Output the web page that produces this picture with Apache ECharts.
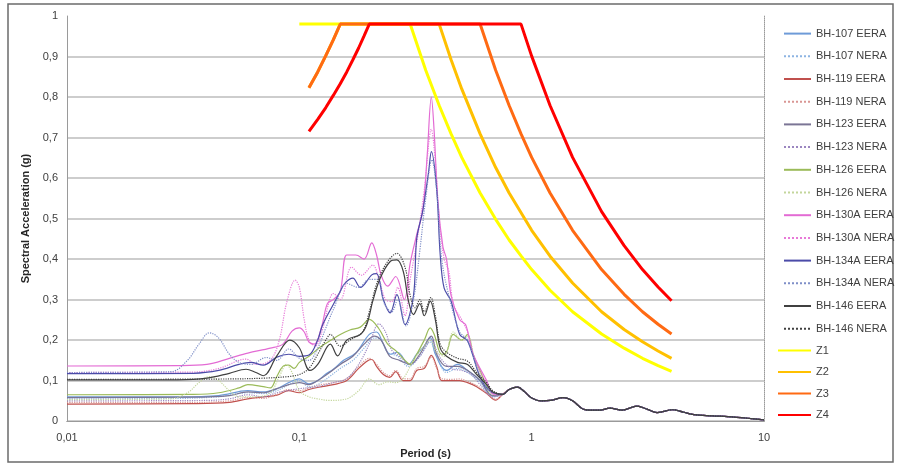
<!DOCTYPE html>
<html><head><meta charset="utf-8">
<script src="https://cdn.jsdelivr.net/npm/echarts@6/dist/echarts.min.js"></script>
<style>html,body{margin:0;padding:0;background:#fff}#c{width:897px;height:464px}</style>
</head><body><div id="c"></div>
<script>
// ---- tick labels ----
const xTickLabels = ['0,01', '0,1', '1', '10'];
const yTickLabels = ['0', '0,1', '0,2', '0,3', '0,4', '0,5', '0,6', '0,7', '0,8', '0,9', '1'];

// ---- series names ----
const dataNames = ['BH-107 EERA', 'BH-107 NERA', 'BH-119 EERA', 'BH-119 NERA', 'BH-123 EERA', 'BH-123 NERA',
  'BH-126 EERA', 'BH-126 NERA', 'BH-130A EERA', 'BH-130A NERA', 'BH-134A EERA', 'BH-134A NERA', 'BH-146 EERA', 'BH-146 NERA'];
const zoneNames = ['Z1', 'Z2', 'Z3', 'Z4'];

// ---- common long-period tail (all records converge) [period s, Sa g] ----
const tail = [[0.75,0.066],[0.8,0.078],[0.87,0.084],[0.93,0.073],[1.0,0.057],[1.1,0.05],[1.2,0.051],[1.37,0.058],[1.5,0.05],
  [1.66,0.030],[1.8,0.027],[1.97,0.027],[2.17,0.032],[2.45,0.027],[2.84,0.037],[3.15,0.029],[3.47,0.021],[4.05,0.028],
  [4.5,0.022],[5.0,0.016],[6.0,0.013],[7.0,0.011],[8.5,0.007],[10,0.003]];

// ---- individual records [period s, Sa g] ----
const bh107E = [[0.01,0.06],[0.03,0.06],[0.045,0.063],[0.06,0.075],[0.07,0.072],[0.08,0.08],[0.09,0.095],[0.1,0.104],[0.11,0.092],
  [0.12,0.1],[0.13,0.116],[0.14,0.128],[0.155,0.15],[0.175,0.168],[0.2,0.214],[0.215,0.22],[0.23,0.19],[0.246,0.165],[0.265,0.17],
  [0.295,0.14],[0.32,0.165],[0.345,0.185],[0.366,0.206],[0.385,0.165],[0.43,0.125],[0.48,0.14],[0.53,0.125],[0.6,0.1],[0.68,0.062]];
const bh107N = [[0.01,0.055],[0.03,0.056],[0.045,0.06],[0.06,0.07],[0.07,0.068],[0.08,0.075],[0.09,0.09],[0.1,0.1],[0.11,0.085],
  [0.12,0.09],[0.135,0.11],[0.15,0.13],[0.17,0.15],[0.19,0.18],[0.21,0.205],[0.225,0.2],[0.24,0.17],[0.265,0.16],[0.295,0.135],
  [0.33,0.16],[0.366,0.195],[0.39,0.16],[0.43,0.12],[0.48,0.13],[0.53,0.12],[0.6,0.095],[0.68,0.06]];
const bh119E = [[0.01,0.042],[0.035,0.043],[0.05,0.046],[0.06,0.055],[0.07,0.06],[0.08,0.064],[0.09,0.075],[0.1,0.07],[0.11,0.078],
  [0.125,0.085],[0.14,0.09],[0.16,0.1],[0.18,0.13],[0.197,0.149],[0.205,0.152],[0.215,0.135],[0.23,0.115],[0.245,0.108],[0.26,0.122],
  [0.28,0.1],[0.3,0.1],[0.32,0.125],[0.345,0.13],[0.37,0.162],[0.39,0.135],[0.41,0.1],[0.45,0.1],[0.49,0.1],[0.53,0.095],
  [0.58,0.085],[0.64,0.068],[0.7,0.052]];
const bh119N = [[0.01,0.046],[0.035,0.046],[0.05,0.05],[0.06,0.058],[0.07,0.056],[0.08,0.066],[0.09,0.078],[0.1,0.075],[0.11,0.082],
  [0.125,0.09],[0.14,0.095],[0.16,0.105],[0.18,0.135],[0.2,0.155],[0.215,0.14],[0.23,0.12],[0.245,0.112],[0.26,0.125],[0.28,0.105],
  [0.3,0.104],[0.32,0.13],[0.345,0.135],[0.37,0.158],[0.39,0.13],[0.41,0.105],[0.45,0.103],[0.49,0.104],[0.53,0.098],[0.58,0.088],
  [0.64,0.07],[0.7,0.054]];
const bh123E = [[0.01,0.058],[0.035,0.059],[0.05,0.063],[0.06,0.072],[0.07,0.07],[0.08,0.08],[0.09,0.09],[0.1,0.095],[0.11,0.09],
  [0.12,0.1],[0.135,0.12],[0.15,0.14],[0.17,0.16],[0.19,0.19],[0.21,0.21],[0.225,0.2],[0.245,0.16],[0.27,0.15],[0.3,0.14],
  [0.33,0.165],[0.37,0.21],[0.39,0.165],[0.43,0.135],[0.48,0.135],[0.53,0.125],[0.6,0.1],[0.68,0.063]];
const bh123N = [[0.01,0.05],[0.04,0.051],[0.05,0.055],[0.06,0.065],[0.07,0.06],[0.08,0.07],[0.1,0.08],[0.12,0.085],[0.14,0.095],
  [0.16,0.105],[0.18,0.14],[0.2,0.19],[0.22,0.24],[0.235,0.22],[0.25,0.175],[0.27,0.16],[0.3,0.14],[0.33,0.16],[0.37,0.2],
  [0.4,0.16],[0.45,0.13],[0.5,0.125],[0.55,0.115],[0.6,0.09],[0.68,0.06]];
const bh126E = [[0.01,0.065],[0.035,0.066],[0.045,0.07],[0.055,0.082],[0.06,0.09],[0.07,0.085],[0.075,0.082],[0.08,0.11],
  [0.085,0.135],[0.09,0.138],[0.095,0.13],[0.1,0.145],[0.11,0.16],[0.12,0.178],[0.13,0.192],[0.15,0.214],[0.165,0.225],
  [0.183,0.232],[0.2,0.251],[0.22,0.228],[0.24,0.19],[0.26,0.174],[0.285,0.15],[0.3,0.14],[0.32,0.165],[0.345,0.2],[0.366,0.23],
  [0.38,0.215],[0.41,0.165],[0.43,0.17],[0.46,0.214],[0.5,0.2],[0.53,0.214],[0.56,0.165],[0.6,0.125],[0.66,0.075]];
const bh126N = [[0.01,0.053],[0.028,0.055],[0.033,0.07],[0.037,0.095],[0.041,0.11],[0.045,0.1],[0.05,0.075],[0.055,0.06],
  [0.065,0.06],[0.075,0.07],[0.082,0.11],[0.088,0.14],[0.093,0.12],[0.1,0.075],[0.11,0.06],[0.12,0.055],[0.135,0.051],[0.16,0.055],
  [0.18,0.075],[0.2,0.104],[0.22,0.09],[0.24,0.097],[0.26,0.095],[0.28,0.105],[0.31,0.15],[0.34,0.18],[0.366,0.2],[0.39,0.17],
  [0.42,0.16],[0.46,0.22],[0.5,0.2],[0.53,0.21],[0.57,0.15],[0.62,0.1],[0.68,0.065]];
const bh130E = [[0.01,0.136],[0.03,0.137],[0.04,0.14],[0.05,0.155],[0.06,0.168],[0.075,0.18],[0.085,0.19],[0.093,0.222],[0.1,0.23],
  [0.105,0.22],[0.11,0.195],[0.116,0.19],[0.125,0.235],[0.132,0.29],[0.14,0.3],[0.15,0.32],[0.16,0.41],[0.175,0.41],[0.19,0.4],
  [0.205,0.44],[0.215,0.41],[0.225,0.36],[0.24,0.333],[0.26,0.357],[0.283,0.3],[0.3,0.39],[0.32,0.46],[0.34,0.52],[0.355,0.655],
  [0.37,0.8],[0.38,0.72],[0.395,0.54],[0.415,0.43],[0.43,0.4],[0.45,0.31],[0.49,0.25],[0.52,0.238],[0.56,0.165],[0.64,0.1],[0.68,0.067]];
const bh130N = [[0.01,0.12],[0.035,0.121],[0.045,0.13],[0.059,0.153],[0.065,0.14],[0.075,0.15],[0.082,0.2],[0.088,0.29],[0.096,0.348],
  [0.1,0.33],[0.105,0.25],[0.11,0.2],[0.117,0.185],[0.125,0.22],[0.135,0.3],[0.14,0.315],[0.15,0.3],[0.168,0.38],[0.185,0.36],
  [0.207,0.385],[0.22,0.35],[0.235,0.3],[0.25,0.295],[0.265,0.33],[0.285,0.26],[0.3,0.35],[0.32,0.44],[0.345,0.57],[0.37,0.72],
  [0.385,0.64],[0.4,0.5],[0.42,0.4],[0.44,0.37],[0.46,0.29],[0.5,0.25],[0.53,0.22],[0.57,0.15],[0.64,0.095],[0.7,0.065]];
const bh134E = [[0.01,0.117],[0.035,0.118],[0.045,0.125],[0.055,0.14],[0.062,0.145],[0.07,0.138],[0.08,0.158],[0.09,0.165],[0.1,0.16],
  [0.11,0.163],[0.12,0.2],[0.126,0.238],[0.14,0.288],[0.15,0.32],[0.157,0.34],[0.17,0.353],[0.183,0.33],[0.205,0.361],[0.215,0.364],
  [0.23,0.3],[0.246,0.267],[0.263,0.312],[0.285,0.238],[0.31,0.31],[0.32,0.45],[0.34,0.52],[0.36,0.615],[0.37,0.665],[0.39,0.573],
  [0.404,0.41],[0.42,0.328],[0.45,0.296],[0.49,0.214],[0.53,0.198],[0.6,0.108],[0.66,0.075]];
const bh134N = [[0.01,0.12],[0.028,0.122],[0.033,0.15],[0.037,0.19],[0.041,0.218],[0.045,0.205],[0.05,0.165],[0.055,0.145],[0.062,0.14],
  [0.072,0.157],[0.08,0.15],[0.09,0.178],[0.1,0.155],[0.11,0.15],[0.12,0.18],[0.13,0.23],[0.14,0.275],[0.16,0.34],[0.18,0.33],
  [0.2,0.35],[0.218,0.35],[0.232,0.29],[0.25,0.27],[0.265,0.3],[0.288,0.235],[0.31,0.3],[0.33,0.42],[0.35,0.55],[0.372,0.645],
  [0.39,0.57],[0.41,0.4],[0.44,0.31],[0.49,0.22],[0.53,0.2],[0.6,0.11],[0.66,0.075]];
const bh146E = [[0.01,0.102],[0.03,0.102],[0.04,0.106],[0.05,0.118],[0.059,0.128],[0.065,0.12],[0.07,0.112],[0.08,0.161],[0.091,0.2],
  [0.1,0.181],[0.111,0.125],[0.12,0.14],[0.136,0.19],[0.146,0.161],[0.16,0.2],[0.183,0.214],[0.195,0.238],[0.207,0.296],[0.223,0.353],
  [0.246,0.394],[0.263,0.398],[0.28,0.37],[0.295,0.296],[0.31,0.263],[0.33,0.29],[0.345,0.26],[0.366,0.296],[0.385,0.25],[0.404,0.18],
  [0.43,0.16],[0.48,0.145],[0.53,0.14],[0.58,0.115],[0.64,0.09],[0.68,0.072]];
const bh146N = [[0.01,0.103],[0.05,0.104],[0.07,0.106],[0.09,0.11],[0.1,0.115],[0.11,0.13],[0.12,0.165],[0.13,0.2],[0.136,0.214],
  [0.15,0.185],[0.165,0.2],[0.187,0.22],[0.2,0.27],[0.217,0.345],[0.24,0.394],[0.263,0.414],[0.285,0.38],[0.3,0.31],[0.315,0.28],
  [0.33,0.3],[0.345,0.27],[0.368,0.305],[0.385,0.26],[0.404,0.19],[0.43,0.17],[0.48,0.155],[0.53,0.148],[0.58,0.12],[0.64,0.095],[0.68,0.075]];

// ---- design spectra Z1..Z4 [period s, Sa g] ----
const z1 = [[0.1,0.98],[0.3,0.98],[0.35,0.866],[0.4,0.779],[0.45,0.709],[0.5,0.651],[0.6,0.563],[0.7,0.498],[0.8,0.447],[0.9,0.408],
  [1.0,0.374],[1.2,0.323],[1.5,0.270],[2.0,0.215],[2.5,0.180],[3.0,0.155],[3.5,0.137],[4.0,0.123]];
const z2 = [[0.11,0.823],[0.12,0.862],[0.13,0.902],[0.14,0.941],[0.15,0.98],[0.4,0.98],[0.45,0.892],[0.5,0.820],[0.6,0.709],[0.7,0.626],
  [0.8,0.563],[1.0,0.471],[1.2,0.407],[1.5,0.341],[2.0,0.270],[2.5,0.226],[3.0,0.196],[3.5,0.173],[4.0,0.155]];
const z3 = [[0.11,0.823],[0.12,0.862],[0.13,0.902],[0.14,0.941],[0.15,0.98],[0.6,0.98],[0.7,0.866],[0.8,0.779],[0.9,0.709],[1.0,0.651],
  [1.2,0.563],[1.5,0.471],[2.0,0.374],[2.5,0.313],[3.0,0.270],[3.5,0.239],[4.0,0.215]];
const z4 = [[0.11,0.715],[0.12,0.745],[0.13,0.774],[0.14,0.804],[0.15,0.833],[0.16,0.862],[0.17,0.892],[0.18,0.921],[0.19,0.951],
  [0.2,0.98],[0.9,0.98],[1.0,0.901],[1.2,0.779],[1.5,0.651],[2.0,0.517],[2.5,0.433],[3.0,0.374],[3.5,0.331],[4.0,0.297]];

const records = [bh107E, bh107N, bh119E, bh119N, bh123E, bh123N, bh126E, bh126N, bh130E, bh130N, bh134E, bh134N, bh146E, bh146N];
const zones = [z1, z2, z3, z4];

const recColors = ['#6E9BD8', '#8DB4E2', '#C0504D', '#D99694', '#7B7595', '#9B86C0', '#9BBB59', '#C3D69B',
  '#E36BD4', '#E879D8', '#4B4BA8', '#7F8FC8', '#404040', '#404040'];
const zoneColors = ['#FFFF00', '#FFC000', '#FF6A13', '#FF0000'];

const FONT = '"Liberation Sans", Arial, sans-serif';
const series = [];
records.forEach((d, i) => {
  series.push({
    name: dataNames[i], type: 'line', data: d.concat(tail), symbol: 'none', showSymbol: false, smooth: 0.35,
    lineStyle: { width: 1.2, color: recColors[i], type: i % 2 === 1 ? 'dotted' : 'solid' },
    itemStyle: { color: recColors[i] }, z: 2 + i * 0.01, silent: true
  });
});
zones.forEach((d, i) => {
  series.push({
    name: zoneNames[i], type: 'line', data: d, symbol: 'none', showSymbol: false, smooth: false,
    lineStyle: { width: 3, color: zoneColors[i] }, itemStyle: { color: zoneColors[i] }, z: 3 + i * 0.01, silent: true
  });
});

const grid = { left: 67, right: 133, top: 16, bottom: 40, containLabel: false };
const chart = echarts.init(document.getElementById('c'), null, { renderer: 'canvas' });
const splitColors = yTickLabels.map((t, i) => i === yTickLabels.length - 1 ? 'rgba(0,0,0,0)' : '#BDBDBD');
const legendText = { fontFamily: FONT, fontSize: 11, color: '#404040' };
chart.setOption({
  animation: false,
  backgroundColor: '#fff',
  grid: grid,
  graphic: [{ type: 'rect', shape: { x: 8, y: 4, width: 885, height: 458 }, style: { fill: 'none', stroke: '#6b6b6b', lineWidth: 1.5 }, z: 0 }],
  xAxis: [{
    type: 'log', logBase: 10, min: 0.01, max: 10,
    name: 'Period (s)', nameLocation: 'middle', nameGap: 22,
    nameTextStyle: { fontFamily: FONT, fontSize: 11, fontWeight: 'bold', color: '#262626', padding: [0, 0, 0, 20] },
    axisLine: { show: true, lineStyle: { color: '#9a9a9a', width: 1 } },
    axisTick: { show: false }, splitLine: { show: false }, minorTick: { show: false },
    axisLabel: { margin: 11, fontFamily: FONT, fontSize: 11, color: '#404040',
      formatter: v => xTickLabels[Math.round(Math.log10(v)) + 2] }
  }, {
    type: 'log', logBase: 10, min: 0.01, max: 10, position: 'top',
    axisLine: { show: true, lineStyle: { color: '#9a9a9a', width: 1, type: 'dotted' } },
    axisTick: { show: false }, axisLabel: { show: false }, splitLine: { show: false }
  }],
  yAxis: [{
    type: 'value', min: 0, max: 1, interval: 0.1,
    name: 'Spectral Acceleration (g)', nameLocation: 'middle', nameGap: 31,
    nameTextStyle: { fontFamily: FONT, fontSize: 11, fontWeight: 'bold', color: '#262626' },
    axisLine: { show: true, lineStyle: { color: '#9a9a9a', width: 1 } },
    axisTick: { show: false },
    splitLine: { show: true, lineStyle: { color: splitColors, width: 1.5 } },
    axisLabel: { margin: 9, fontFamily: FONT, fontSize: 11, color: '#404040',
      formatter: v => yTickLabels[Math.round(v * 10)] }
  }, {
    type: 'value', min: 0, max: 1, interval: 0.1, position: 'right',
    axisLine: { show: true, lineStyle: { color: '#9a9a9a', width: 1, type: 'dotted' } },
    axisTick: { show: false }, axisLabel: { show: false }, splitLine: { show: false }
  }],
  legend: [{
    data: dataNames, orient: 'vertical', left: 778, top: 23, itemWidth: 27, itemHeight: 14, itemGap: 11.5,
    itemStyle: { opacity: 0 }, textStyle: legendText, selectedMode: false
  }, {
    data: zoneNames, orient: 'vertical', left: 772, top: 340, itemWidth: 33, itemHeight: 14, itemGap: 10.3,
    itemStyle: { opacity: 0 }, textStyle: legendText, selectedMode: false
  }],
  series: series
});
</script>
</body></html>
